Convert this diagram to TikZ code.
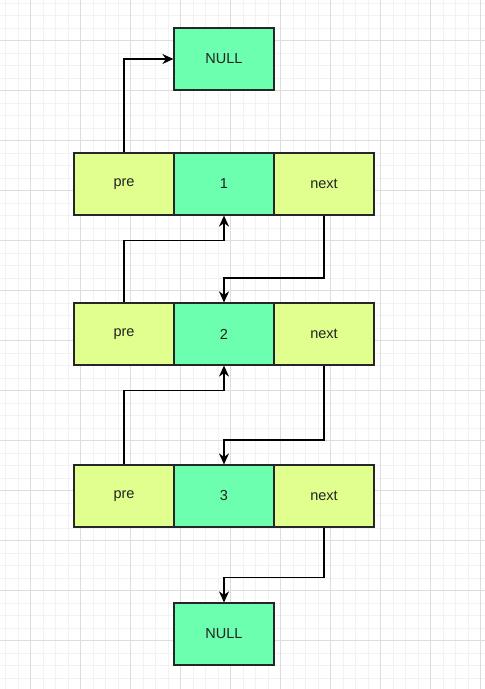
\documentclass[tikz,border=0pt]{standalone}
\usepackage{fontspec}
\setmainfont{Liberation Sans}
\usetikzlibrary{arrows.meta}
\definecolor{cellgreen}{HTML}{6CFFAF}
\definecolor{cellyellow}{HTML}{E0FF8E}
\definecolor{gridminor}{HTML}{F2F2F2}
\definecolor{gridmajor}{HTML}{DDDDDD}
\definecolor{txt}{HTML}{222222}
\tikzset{
  cell/.style={draw=black!85, line width=1.2pt, minimum width=100pt, minimum height=62pt, inner sep=0pt, font=\fontsize{14.5pt}{16pt}\selectfont, text=txt},
  gcell/.style={cell, fill=cellgreen},
  ycell/.style={cell, fill=cellyellow},
  link/.style={draw=black, line width=1.3pt, -{Stealth[length=11pt,width=10pt,inset=3.5pt]}},
}
\begin{document}
\begin{tikzpicture}[x=1pt,y=-1pt]
\useasboundingbox (0,0) rectangle (485,689);
\fill[white] (0,0) rectangle (485,689);
% grid
\foreach \x in {5.7,18.2,...,485} \draw[gridminor, line width=1pt] (\x,0) -- (\x,689);
\foreach \y in {3.2,15.7,...,689} \draw[gridminor, line width=1pt] (0,\y) -- (485,\y);
\foreach \x in {30.7,80.7,...,485} \draw[gridmajor, line width=1pt] (\x,0) -- (\x,689);
\foreach \y in {40.7,90.7,...,689} \draw[gridmajor, line width=1pt] (0,\y) -- (485,\y);
% nodes
\node[gcell] (null1) at (224,59) {NULL};
\node[ycell] (p1) at (124,184) {pre};
\node[gcell] (m1) at (224,184) {1};
\node[ycell] (n1) at (324,184) {next};
\node[ycell] (p2) at (124,334) {pre};
\node[gcell] (m2) at (224,334) {2};
\node[ycell] (n2) at (324,334) {next};
\node[ycell] (p3) at (124,496) {pre};
\node[gcell] (m3) at (224,496) {3};
\node[ycell] (n3) at (324,496) {next};
\node[gcell] (null2) at (224,634) {NULL};
% connectors
\draw[link] (p1.north) |- (null1.west);
\draw[link] (p2.north) -- (p2.north |- 0,240.5) -| (m1.south);
\draw[link] (n1.south) -- (n1.south |- 0,278) -| (m2.north);
\draw[link] (p3.north) -- (p3.north |- 0,390.5) -| (m2.south);
\draw[link] (n2.south) -- (n2.south |- 0,440) -| (m3.north);
\draw[link] (n3.south) -- (n3.south |- 0,577.5) -| (null2.north);
\end{tikzpicture}
\end{document}
